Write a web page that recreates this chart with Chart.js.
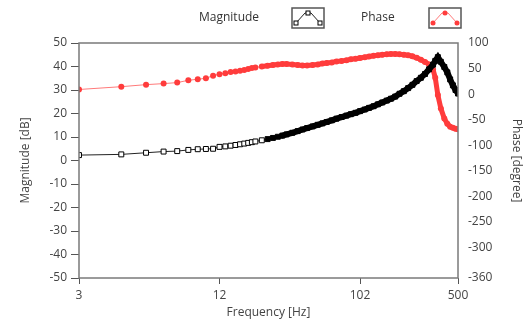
<!DOCTYPE html>
<html>
<head>
<meta charset="utf-8">
<script src="https://cdn.jsdelivr.net/npm/chart.js@4.4.1/dist/chart.umd.min.js"></script>
<style>
  html, body { margin: 0; padding: 0; background: #fff; }
  #wrap { width: 531px; height: 324px; }
</style>
</head>
<body>
<div id="wrap"><canvas id="bodeChart" width="531" height="324"></canvas></div>
<script>
// Frequency points (Hz) and the two measured series
const freqHz = [3, 4, 5, 6, 7, 8, 9, 10, 11, 12, 13, 14, 15, 16, 17, 18, 19, 20,
  22, 24, 26, 28, 30, 32, 35, 38, 41, 44, 48, 52, 56, 60, 65, 70, 76, 82, 88, 95,
  102, 110, 118, 127, 136, 146, 157, 168, 180, 193, 207, 222, 238, 255, 273, 292,
  312, 333, 345, 360, 378, 400, 420, 440, 460, 480, 500];

const magnitudeDb = [2.3, 2.6, 3.3, 3.8, 4.0, 4.5, 4.8, 4.9, 5.0, 5.8, 6.0, 6.3, 6.6, 6.9, 7.2, 7.5, 7.8, 8.1,
  8.6, 9.1, 9.6, 10.1, 10.6, 11.1, 11.8, 12.5, 13.2, 13.8, 14.5, 15.2, 15.8, 16.4, 17.1, 17.8, 18.5, 19.1, 19.7, 20.3,
  21.0, 21.7, 22.4, 23.1, 23.9, 24.7, 25.5, 26.3, 27.2, 28.4, 29.5, 30.8, 32.2, 33.8, 35.2, 36.8,
  38.8, 40.8, 42.4, 44.0, 42.0, 39.8, 37.5, 34.5, 32.0, 30.0, 28.5];

const phaseDeg = [9, 14.5, 18.5, 20.5, 22.5, 27, 29, 31, 36, 39, 41, 43, 44, 45.5, 47, 49, 51, 52,
  54, 55.5, 57, 58, 59, 59, 58, 57, 56, 56, 57, 58, 60, 61, 62, 64, 65, 66, 68, 69,
  70.5, 72, 73.5, 75, 76, 77, 78, 78.5, 78.5, 78, 77, 76, 74, 71, 67, 63,
  58, 48, 32, -2, -28, -48, -58, -64, -66, -68, -69];

// Axis ticks
const freqTickLabels = [3, 12, 102, 500];
const magTicks = [50, 40, 30, 20, 10, 0, -10, -20, -30, -40, -50];
const phaseTicks = [100, 50, 0, -50, -100, -150, -200, -250, -300, -360];

// The frequency scale is a log scale with an offset of 2 Hz
const FREQ_OFFSET = 2;

const TEXT_COLOR = '#444';
const FONT = { family: '"Open Sans", "DejaVu Sans", sans-serif', size: 12 };

function toPoints(values) {
    return freqHz.map((f, i) => ({ x: f - FREQ_OFFSET, y: values[i] }));
}

// Where the markers sit so close that the trace turns into a thick band
function bandWidth(fromHz, width) {
    return seg => (seg.p0.parsed.x + FREQ_OFFSET >= fromHz ? width : 1);
}

// Draws the grey frame around the plot area
const framePlugin = {
    id: 'frame',
    afterDatasetsDraw(chart) {
        const { ctx, chartArea: a } = chart;
        ctx.save();
        ctx.strokeStyle = '#7a7a7a';
        ctx.lineWidth = 1.5;
        ctx.strokeRect(a.left, a.top, a.right - a.left, a.bottom - a.top);
        ctx.restore();
    }
};

// Legend in LabVIEW style: label first, then a boxed sample of the plot
const legendPlugin = {
    id: 'lvLegend',
    afterDraw(chart) {
        const ctx = chart.ctx;
        const slots = [{ textX: 199, boxX: 292 }, { textX: 361, boxX: 429 }];
        const boxY = 8, boxW = 32, boxH = 20;
        ctx.save();
        ctx.font = '12px "Open Sans", "DejaVu Sans", sans-serif';
        ctx.textBaseline = 'middle';
        chart.data.datasets.forEach((ds, i) => {
            const s = slots[i];
            ctx.fillStyle = '#333';
            ctx.fillText(ds.label, s.textX, 18);

            ctx.fillStyle = '#fff';
            ctx.fillRect(s.boxX, boxY, boxW, boxH);
            ctx.strokeStyle = '#555';
            ctx.lineWidth = 1.5;
            ctx.strokeRect(s.boxX, boxY, boxW, boxH);

            const px = [s.boxX + 4, s.boxX + 13, s.boxX + 19, s.boxX + 28];
            const py = [boxY + 15, boxY + 5, boxY + 5, boxY + 15];
            ctx.strokeStyle = ds.borderColor;
            ctx.lineWidth = 1;
            ctx.beginPath();
            ctx.moveTo(px[0], py[0]);
            for (let k = 1; k < 4; k++) ctx.lineTo(px[k], py[k]);
            ctx.stroke();

            const marks = [[px[0], py[0]], [(px[1] + px[2]) / 2, py[1]], [px[3], py[3]]];
            marks.forEach(([mx, my]) => {
                if (ds.pointStyle === 'rect') {
                    ctx.fillStyle = '#fff';
                    ctx.fillRect(mx - 2, my - 2, 4, 4);
                    ctx.strokeStyle = '#000';
                    ctx.strokeRect(mx - 2, my - 2, 4, 4);
                } else {
                    ctx.fillStyle = '#ff3c3c';
                    ctx.beginPath();
                    ctx.arc(mx, my, 2.5, 0, Math.PI * 2);
                    ctx.fill();
                }
            });
        });
        ctx.restore();
    }
};

function initializeChart() {
    const ctx = document.getElementById('bodeChart').getContext('2d');

    return new Chart(ctx, {
        type: 'line',
        data: {
            datasets: [
                {
                    label: 'Magnitude',
                    data: toPoints(magnitudeDb),
                    yAxisID: 'y',
                    borderColor: '#222',
                    borderWidth: 1,
                    borderJoinStyle: 'miter',
                    borderCapStyle: 'round',
                    segment: { borderWidth: bandWidth(30, 6), borderColor: s => (s.p0.parsed.x + FREQ_OFFSET >= 30 ? '#000' : '#222') },
                    pointStyle: 'rect',
                    pointRadius: 3.5,
                    pointBorderWidth: 1,
                    pointBorderColor: '#000',
                    pointBackgroundColor: c => (c.raw && c.raw.x > 20 ? '#000' : '#fff'),
                    tension: 0,
                },
                {
                    label: 'Phase',
                    data: toPoints(phaseDeg),
                    yAxisID: 'y1',
                    borderColor: '#ff7a7a',
                    borderWidth: 1,
                    borderJoinStyle: 'round',
                    borderCapStyle: 'round',
                    segment: { borderWidth: bandWidth(22, 5), borderColor: s => (s.p0.parsed.x + FREQ_OFFSET >= 22 ? '#ff3c3c' : '#ff7a7a') },
                    pointStyle: 'circle',
                    pointRadius: 3,
                    pointBorderWidth: 0,
                    pointBackgroundColor: '#ff3c3c',
                    tension: 0,
                }
            ]
        },
        options: {
            responsive: false,
            animation: false,
            devicePixelRatio: 1,
            layout: { padding: { top: 43, left: 0, right: 0, bottom: 0 } },
            plugins: {
                legend: { display: false },
                tooltip: { enabled: false },
            },
            scales: {
                x: {
                    type: 'logarithmic',
                    position: 'bottom',
                    min: 1,
                    max: 498,
                    afterBuildTicks: s => { s.ticks = freqTickLabels.map(f => ({ value: f - FREQ_OFFSET })); },
                    afterFit: s => { s.height = 46; },
                    ticks: {
                        autoSkip: false,
                        maxRotation: 0,
                        padding: 4,
                        color: TEXT_COLOR,
                        font: FONT,
                        callback: v => String(Math.round(v + FREQ_OFFSET)),
                    },
                    grid: { drawOnChartArea: false, drawTicks: true, tickLength: 6, color: '#555' },
                    border: { display: false },
                    title: { display: true, text: 'Frequency [Hz]', color: TEXT_COLOR, font: FONT, padding: { top: 0, bottom: 4 } },
                },
                y: {
                    type: 'linear',
                    position: 'left',
                    min: -50,
                    max: 50,
                    afterBuildTicks: s => { s.ticks = magTicks.map(v => ({ value: v })); },
                    afterFit: s => { s.width = 79; },
                    ticks: { padding: 4, color: TEXT_COLOR, font: FONT },
                    grid: { drawOnChartArea: false, drawTicks: true, tickLength: 8, color: '#555' },
                    border: { display: false },
                    title: { display: true, text: 'Magnitude [dB]', color: TEXT_COLOR, font: FONT, padding: { top: 18, bottom: 0 } },
                },
                y1: {
                    type: 'linear',
                    position: 'right',
                    min: -360,
                    max: 100,
                    afterBuildTicks: s => { s.ticks = phaseTicks.map(v => ({ value: v })); },
                    afterFit: s => { s.width = 73; },
                    ticks: { padding: 10, color: TEXT_COLOR, font: FONT },
                    grid: { display: false, drawTicks: false },
                    border: { display: false },
                    title: { display: true, text: 'Phase [degree]', color: TEXT_COLOR, font: FONT, padding: { top: 7, bottom: 0 } },
                },
            },
        },
        plugins: [framePlugin, legendPlugin],
    });
}

document.addEventListener('DOMContentLoaded', function () {
    initializeChart();
});
</script>
</body>
</html>
